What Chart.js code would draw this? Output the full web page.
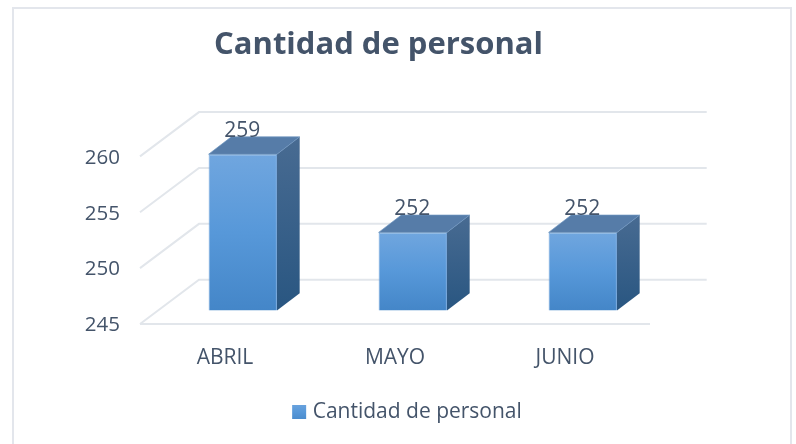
<!DOCTYPE html>
<html>
<head>
<meta charset="utf-8">
<style>
html,body{margin:0;padding:0;background:#fff;overflow:hidden}
#wrap{position:absolute;left:0;top:0;width:796px;height:444px}
</style>
<script src="https://cdn.jsdelivr.net/npm/chart.js@4/dist/chart.umd.min.js"></script>
</head>
<body>
<div id="wrap"><canvas id="c" width="796" height="444"></canvas></div>
<script>
const categories = ['ABRIL', 'MAYO', 'JUNIO'];
const personal = [259, 252, 252];
const seriesName = 'Cantidad de personal';
const tickValues = [245, 250, 255, 260];

const TEXT = '#44546A';
const FONT = '"Open Sans", sans-serif';
const GRID = '#E2E6EB';
// perspective offsets of the 3D box
const WALL = {dx: 59, dy: 44.3, rightDx: 56.7}; // front plane to back wall
const BAR_OFF = {dx: 17.8, dy: 13.4};           // front plane to bar front
const BAR_DEPTH = {dx: 22.7, dy: 17.3};

function frontGradient(c, top, bottom) {
  const g = c.createLinearGradient(0, top, 0, bottom);
  g.addColorStop(0, '#70A6DF');
  g.addColorStop(0.5, '#5798D9');
  g.addColorStop(1, '#4486C8');
  return g;
}

const box3d = {
  id: 'box3d',
  afterLayout(chart) {
    // off-centre title and legend, as in the reference
    const t = chart.titleBlock; t.left = 0; t.right = 757;
    const l = chart.legend; l.left = 11; l.right = 796 + 11;
  },
  beforeDraw(chart) {
    const c = chart.ctx;
    c.save();
    c.strokeStyle = '#E3E6EC';
    c.lineWidth = 2;
    c.strokeRect(13, 8, 778, 460);
    c.restore();
    const l = chart.legend;
    if (l.legendItems && l.legendItems[0]) {
      const p = l.options.labels.padding;
      const g = frontGradient(c, l.top + p, l.bottom - p);
      l.legendItems[0].fillStyle = g;
      l.legendItems[0].strokeStyle = g;
      l.legendItems[0].lineWidth = 8;
    }
  },
  beforeDatasetsDraw(chart) {
    const c = chart.ctx, {left, right, bottom} = chart.chartArea, y = chart.scales.y;
    c.save();
    c.strokeStyle = GRID;
    c.lineWidth = 2;
    c.beginPath();
    tickValues.forEach(v => {
      const py = y.getPixelForValue(v);
      c.moveTo(left, py);
      c.lineTo(left + WALL.dx, py - WALL.dy);
      c.lineTo(right + WALL.rightDx, py - WALL.dy);
    });
    c.moveTo(left, bottom);
    c.lineTo(right, bottom);
    c.stroke();
    c.restore();
    // bars sit inside the box, shifted back from the front plane
    c.save();
    c.translate(BAR_OFF.dx, -BAR_OFF.dy);
  },
  afterDatasetsDraw(chart) {
    const c = chart.ctx, meta = chart.getDatasetMeta(0);
    const {dx, dy} = BAR_DEPTH;
    meta.data.forEach(el => {
      const l = el.x - el.width / 2, r = el.x + el.width / 2, t = el.y, b = el.base;
      // side face
      const sg = c.createLinearGradient(0, t - dy, 0, b);
      sg.addColorStop(0, '#486B92');
      sg.addColorStop(1, '#295681');
      c.fillStyle = sg;
      c.beginPath();
      c.moveTo(r, t); c.lineTo(r + dx, t - dy); c.lineTo(r + dx, b - dy); c.lineTo(r, b);
      c.closePath(); c.fill();
      // top face
      c.fillStyle = '#567CA8';
      c.strokeStyle = '#6C93BE';
      c.lineWidth = 0.7;
      c.beginPath();
      c.moveTo(l, t); c.lineTo(l + dx, t - dy); c.lineTo(r + dx, t - dy); c.lineTo(r, t);
      c.closePath(); c.fill(); c.stroke();
    });
    c.restore();
    // value labels
    c.save();
    c.fillStyle = TEXT;
    c.font = '21px ' + FONT;
    c.textAlign = 'center';
    c.textBaseline = 'middle';
    meta.data.forEach((el, i) => {
      c.fillText(String(personal[i]), el.x + BAR_OFF.dx - 0.5, el.y - BAR_OFF.dy - 23.5);
    });
    c.restore();
  }
};

new Chart(document.getElementById('c'), {
  type: 'bar',
  data: {
    labels: categories,
    datasets: [{
      label: seriesName,
      data: personal,
      base: tickValues[0],
      barPercentage: 0.402,
      categoryPercentage: 1,
      borderWidth: 1,
      borderColor: '#6FA3DA',
      clip: false,
      backgroundColor(ctx) {
        const chart = ctx.chart, ys = chart.scales.y;
        if (ctx.raw === undefined || !ys) return '#5B9BD5';
        const top = ys.getPixelForValue(ctx.raw), bottom = ys.bottom;
        if (!Number.isFinite(top) || !Number.isFinite(bottom)) return '#5B9BD5';
        return frontGradient(chart.ctx, top, bottom);
      }
    }]
  },
  plugins: [box3d],
  options: {
    responsive: false,
    animation: false,
    layout: {padding: {left: 0, right: 146, top: 0, bottom: 11.5}},
    scales: {
      x: {
        grid: {display: false},
        border: {display: false},
        afterFit(s) { s.height = 67.5; },
        ticks: {color: TEXT, font: {family: FONT, size: 21}, padding: 13, maxRotation: 0}
      },
      y: {
        min: 245, max: 260,
        grid: {display: false},
        border: {display: false},
        afterFit(s) { s.width = 140; },
        afterBuildTicks(s) { s.ticks = tickValues.map(v => ({value: v})); },
        ticks: {color: TEXT, font: {family: FONT, size: 20.5}, padding: 12, labelOffset: 1.5}
      }
    },
    plugins: {
      title: {
        display: true,
        text: seriesName,
        color: TEXT,
        font: {family: FONT, size: 31, weight: '700'},
        padding: {top: 27, bottom: 92.2}
      },
      legend: {
        display: true,
        position: 'bottom',
        labels: {
          color: TEXT,
          font: {family: FONT, size: 21},
          boxWidth: 6,
          boxHeight: 6,
          padding: 10
        }
      },
      tooltip: {enabled: false}
    }
  }
});
</script>
</body>
</html>
